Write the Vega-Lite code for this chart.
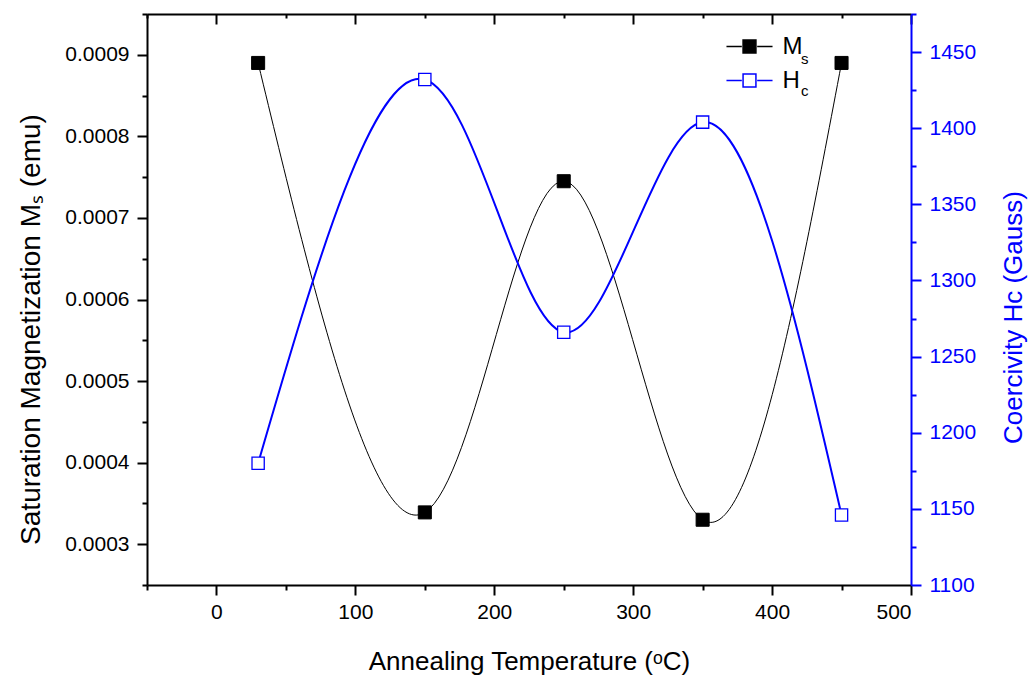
{
  "$schema": "https://vega.github.io/schema/vega-lite/v6.json",
  "width": 764,
  "height": 571,
  "autosize": {"type": "none"},
  "padding": {"left": 147, "top": 14, "right": 118, "bottom": 90},
  "config": {
    "view": {"stroke": null},
    "font": "Liberation Sans",
    "axis": {
      "grid": false,
      "labelFont": "Liberation Sans",
      "titleFont": "Liberation Sans",
      "labelFontSize": 21,
      "titleFontSize": 26,
      "titleFontWeight": "normal",
      "labelColor": "black",
      "titleColor": "black",
      "domainColor": "black",
      "tickColor": "black",
      "domainWidth": 2,
      "tickWidth": 2
    },
    "legend": {"padding": 0}
  },
  "data": {
    "values": [
      {"T": 30, "Ms": 0.00089, "Hc": 1180},
      {"T": 150, "Ms": 0.000339, "Hc": 1432},
      {"T": 250, "Ms": 0.000745, "Hc": 1266},
      {"T": 350, "Ms": 0.00033, "Hc": 1404},
      {"T": 450, "Ms": 0.00089, "Hc": 1146}
    ]
  },
  "layer": [
    {
      "encoding": {
        "x": {
          "field": "T",
          "type": "quantitative",
          "scale": {"domain": [-50, 500], "nice": false, "zero": false},
          "axis": {
            "orient": "bottom",
            "values": [-50, 0, 50, 100, 150, 200, 250, 300, 350, 400, 450, 500],
            "labelExpr": "datum.value % 100 === 0 ? datum.label : ''",
            "tickSize": {"condition": {"test": "datum.value % 100 === 0", "value": 10}, "value": 5},
            "labelPadding": 6,
            "title": "Annealing Temperature (ᵒC)",
            "titleBaseline": "alphabetic",
            "titleX": 382,
            "titleY": 84
          }
        },
        "y": {
          "field": "Ms",
          "type": "quantitative",
          "scale": {"domain": [0.00025, 0.00095], "nice": false, "zero": false},
          "axis": {
            "orient": "left",
            "values": [0.00025, 0.0003, 0.00035, 0.0004, 0.00045, 0.0005, 0.00055, 0.0006, 0.00065, 0.0007, 0.00075, 0.0008, 0.00085, 0.0009, 0.00095],
            "format": ".4f",
            "labelExpr": "round(datum.value * 20000) % 2 === 0 ? datum.label : ''",
            "tickSize": {"condition": {"test": "round(datum.value * 20000) % 2 === 0", "value": 10}, "value": 5},
            "labelPadding": 8,
            "title": "Saturation Magnetization Mₛ (emu)",
            "titleFontSize": 28,
            "titleAngle": -90,
            "titleBaseline": "alphabetic",
            "titleAlign": "center",
            "titleX": -108,
            "titleY": 315
          }
        }
      },
      "layer": [
        {
          "mark": {"type": "line", "interpolate": "natural", "color": "black", "strokeWidth": 1}
        },
        {
          "mark": {"type": "point", "shape": "square", "size": 170, "strokeWidth": 1, "opacity": 1},
          "encoding": {
            "fill": {
              "datum": "Ms",
              "scale": {"domain": ["Ms", "Hc"], "range": ["black", "white"]},
              "legend": {
                "orient": "none",
                "legendX": 581,
                "legendY": 11,
                "title": null,
                "symbolType": "M -1.11 0 H -0.37 M 0.37 0 H 1.11 M -0.31 -0.31 H 0.31 V 0.31 H -0.31 Z",
                "symbolSize": 1722,
                "symbolStrokeWidth": 1.5,
                "labelFont": "Liberation Sans",
                "labelFontSize": 24,
                "labelColor": "black",
                "labelOffset": 11.5,
                "rowPadding": 0,
                "labelExpr": "datum.value === 'Ms' ? 'M' : 'H'"
              }
            },
            "stroke": {
              "datum": "Ms",
              "scale": {"domain": ["Ms", "Hc"], "range": ["black", "#0000ff"]},
              "legend": {
                "orient": "none",
                "legendX": 581,
                "legendY": 11,
                "title": null,
                "symbolType": "M -1.11 0 H -0.37 M 0.37 0 H 1.11 M -0.31 -0.31 H 0.31 V 0.31 H -0.31 Z",
                "symbolSize": 1722,
                "symbolStrokeWidth": 1.5,
                "labelFont": "Liberation Sans",
                "labelFontSize": 24,
                "labelColor": "black",
                "labelOffset": 11.5,
                "rowPadding": 0,
                "labelExpr": "datum.value === 'Ms' ? 'M' : 'H'"
              }
            },
            "size": {
              "datum": "s",
              "scale": {"domain": ["s", "c"], "range": [170, 150]},
              "legend": {
                "orient": "none",
                "legendX": 639,
                "legendY": 37,
                "title": null,
                "symbolType": "square",
                "symbolOpacity": 0,
                "labelFont": "Liberation Sans",
                "labelFontSize": 15,
                "labelColor": "black",
                "labelOffset": 0,
                "rowPadding": 16
              }
            }
          }
        }
      ]
    },
    {
      "encoding": {
        "x": {
          "field": "T",
          "type": "quantitative",
          "axis": {
            "orient": "top",
            "values": [-50, 0, 50, 100, 150, 200, 250, 300, 350, 400, 450, 500],
            "labels": false,
            "tickSize": {"condition": {"test": "datum.value % 100 === 0", "value": -10}, "value": -4},
            "title": null
          }
        },
        "y": {
          "field": "Hc",
          "type": "quantitative",
          "scale": {"domain": [1100, 1475], "nice": false, "zero": false},
          "axis": {
            "orient": "right",
            "values": [1100, 1125, 1150, 1175, 1200, 1225, 1250, 1275, 1300, 1325, 1350, 1375, 1400, 1425, 1450, 1475],
            "format": "d",
            "labelExpr": "datum.value % 50 === 0 ? datum.label : ''",
            "tickSize": {"condition": {"test": "datum.value % 50 === 0", "value": 10}, "value": 5},
            "labelPadding": 8,
            "labelColor": "#0000ff",
            "tickColor": "#0000ff",
            "domainColor": "#0000ff",
            "titleColor": "#0000ff",
            "title": "Coercivity Hc (Gauss)",
            "titleAngle": -90,
            "titleBaseline": "alphabetic",
            "titleAlign": "center",
            "titleX": 110,
            "titleY": 303
          }
        }
      },
      "layer": [
        {
          "mark": {"type": "line", "interpolate": "natural", "color": "#0000ff", "strokeWidth": 2}
        },
        {
          "mark": {"type": "point", "shape": "square", "strokeWidth": 1.3, "opacity": 1},
          "encoding": {
            "fill": {"datum": "Hc"},
            "stroke": {"datum": "Hc"},
            "size": {"datum": "c"}
          }
        }
      ]
    }
  ],
  "resolve": {"scale": {"y": "independent"}, "axis": {"x": "independent", "y": "independent"}}
}
